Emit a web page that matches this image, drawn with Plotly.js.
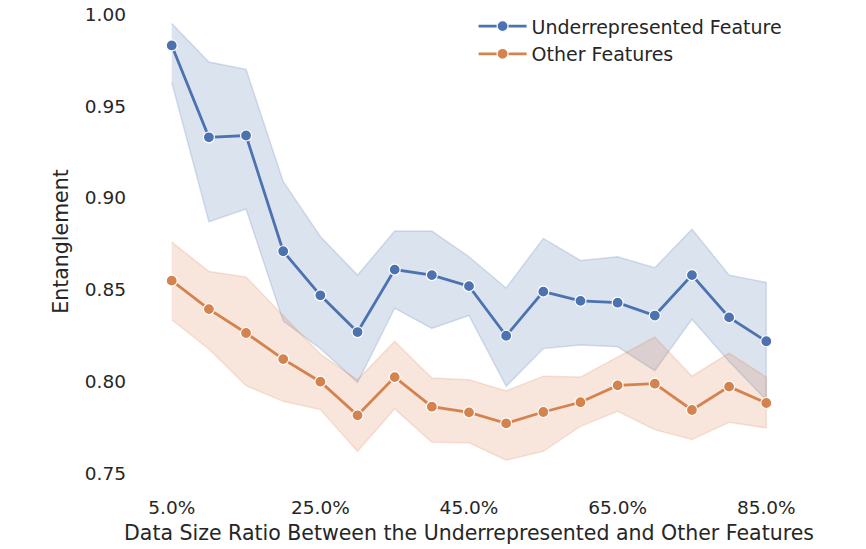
<!DOCTYPE html>
<html>
<head>
<meta charset="utf-8">
<script src="https://cdn.plot.ly/plotly-3.0.1.min.js"></script>
<style>html,body{margin:0;padding:0;background:#fff;}#chart{width:866px;height:549px;}</style>
</head>
<body>
<div id="chart"></div>
<script>
// Data size ratio (%)
const ratios = [5, 10, 15, 20, 25, 30, 35, 40, 45, 50, 55, 60, 65, 70, 75, 80, 85];
const tickVals = [5, 25, 45, 65, 85];
const tickText = ["5.0%", "25.0%", "45.0%", "65.0%", "85.0%"];

// Underrepresented Feature
const underMean  = [0.983, 0.933, 0.934, 0.871, 0.847, 0.827, 0.861, 0.858, 0.852, 0.825, 0.849, 0.844, 0.843, 0.836, 0.858, 0.835, 0.822];
const underUpper = [0.995, 0.974, 0.970, 0.909, 0.879, 0.858, 0.882, 0.882, 0.868, 0.851, 0.878, 0.866, 0.868, 0.862, 0.883, 0.858, 0.854];
const underLower = [0.963, 0.887, 0.894, 0.833, 0.818, 0.7995, 0.840, 0.829, 0.836, 0.7975, 0.818, 0.820, 0.819, 0.806, 0.834, 0.811, 0.790];

// Other Features
const otherMean  = [0.855, 0.8395, 0.8265, 0.8123, 0.800, 0.7817, 0.8025, 0.7864, 0.7833, 0.7773, 0.7835, 0.7888, 0.798, 0.7989, 0.7846, 0.7973, 0.7884];
const otherUpper = [0.876, 0.860, 0.857, 0.836, 0.815, 0.801, 0.822, 0.802, 0.801, 0.795, 0.803, 0.8025, 0.8134, 0.8243, 0.803, 0.8156, 0.8025];
const otherLower = [0.8337, 0.8178, 0.7978, 0.7893, 0.7848, 0.7621, 0.7852, 0.767, 0.7667, 0.7573, 0.7621, 0.7757, 0.7839, 0.7739, 0.7685, 0.7779, 0.7748];

const BLUE = "#4C72B0", ORANGE = "#D4834F";
const FONT = "DejaVu Sans, sans-serif";
const TXT = "#262626";

function band(upper, lower, rgb) {
  return {
    x: ratios.concat(ratios.slice().reverse()),
    y: upper.concat(lower.slice().reverse()),
    type: "scatter", mode: "lines", fill: "toself",
    fillcolor: "rgba(" + rgb + ",0.2)",
    line: {color: "rgba(" + rgb + ",0.2)", width: 1.5},
    showlegend: false, hoverinfo: "skip"
  };
}
function meanLine(vals, color, name) {
  return {
    x: ratios, y: vals, type: "scatter", mode: "lines+markers", name: name,
    line: {color: color, width: 2.8},
    marker: {color: color, size: 11, line: {color: "#fff", width: 1.2}}
  };
}

const data = [
  band(underUpper, underLower, "76,114,176"),
  band(otherUpper, otherLower, "221,132,82"),
  meanLine(underMean, BLUE, "Underrepresented Feature"),
  meanLine(otherMean, ORANGE, "Other Features")
];

const layout = {
  width: 866, height: 549,
  margin: {l: 142, r: 70, t: 1, b: 66.5},
  paper_bgcolor: "#fff", plot_bgcolor: "#fff",
  font: {family: FONT, color: TXT, size: 18},
  showlegend: true,
  legend: {x: 0.507, xanchor: "left", y: 0.987, yanchor: "top",
           itemwidth: 48,
           font: {family: FONT, size: 19, color: TXT},
           bgcolor: "rgba(255,255,255,0)", tracegroupgap: 0},
  xaxis: {
    range: [1, 89], tickvals: tickVals, ticktext: tickText,
    showgrid: false, zeroline: false, showline: false, ticks: "",
    ticklabelstandoff: 12,
    tickfont: {family: FONT, size: 18.5, color: TXT},
    title: {text: "Data Size Ratio Between the Underrepresented and Other Features",
            font: {family: FONT, size: 20.5, color: TXT}, standoff: 9}
  },
  yaxis: {
    range: [0.7454, 1.0072], tickvals: [0.75, 0.80, 0.85, 0.90, 0.95, 1.00],
    ticktext: ["0.75", "0.80", "0.85", "0.90", "0.95", "1.00"],
    showgrid: false, zeroline: false, showline: false, ticks: "",
    ticklabelstandoff: 15,
    tickfont: {family: FONT, size: 18.5, color: TXT},
    title: {text: "Entanglement", font: {family: FONT, size: 20.5, color: TXT}, standoff: 10}
  },
  hovermode: false
};

Plotly.newPlot("chart", data, layout, {displayModeBar: false, staticPlot: true});
</script>
</body>
</html>
